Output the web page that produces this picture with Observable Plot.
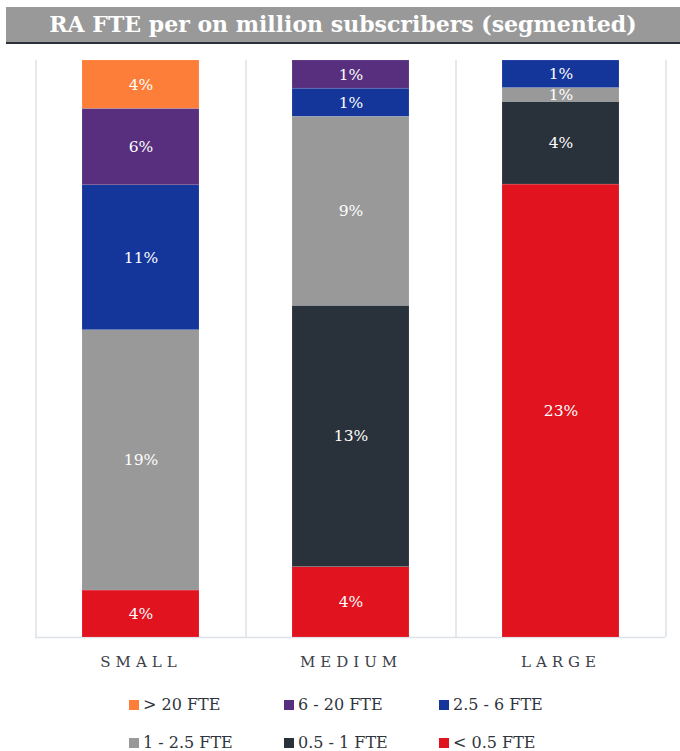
<!DOCTYPE html>
<html>
<head>
<meta charset="utf-8">
<script src="https://cdn.jsdelivr.net/npm/d3@7"></script>
<script src="https://cdn.jsdelivr.net/npm/@observablehq/plot@0.6"></script>
<style>
  html, body { margin: 0; padding: 0; background: #fff; }
  #wrap { position: relative; width: 680px; height: 751px; overflow: hidden; font-family: "DejaVu Serif", serif; }
  #title { position: absolute; top: 7px; left: 6px; right: 0; height: 35px; line-height: 35px;
           background: #999999; border-bottom: 2px solid #2a3139; color: #fff; font-weight: bold;
           font-size: 22px; text-align: center; white-space: nowrap; }
  #chart { position: absolute; top: 44px; left: 0; }
  #chart g[aria-label="x-axis tick label"] text { letter-spacing: 5px; }
  #legend { position: absolute; left: 129px; top: 694px; display: grid;
            grid-template-columns: 155px 155px 155px; row-gap: 17px; }
  .item { display: flex; align-items: center; font-size: 16px; color: #2f353d; height: 21px; white-space: nowrap; }
  .sw { width: 10px; height: 10px; margin-right: 4px; flex: none; }
</style>
</head>
<body>
<div id="wrap">
  <div id="title">RA FTE per on million subscribers (segmented)</div>
  <div id="chart"></div>
  <div id="legend"></div>
</div>
<script>
// Categories (bars)
const categories = ["SMALL", "MEDIUM", "LARGE"];
// Segments, stacked bottom to top
const segments = ["< 0.5 FTE", "0.5 - 1 FTE", "1 - 2.5 FTE", "2.5 - 6 FTE", "6 - 20 FTE", "> 20 FTE"];
const colors = ["#e0131f", "#29313a", "#999999", "#14359a", "#572f7e", "#fd7e38"];
// Values (%) per segment, same order as segments
const smallValues = [3.5, 0, 19.4, 10.8, 5.7, 3.6];
const mediumValues = [3.5, 13.0, 9.4, 1.4, 1.4, 0];
const largeValues = [23.0, 4.2, 0.7, 1.4, 0, 0];
// Legend order
const legendOrder = ["> 20 FTE", "6 - 20 FTE", "2.5 - 6 FTE", "1 - 2.5 FTE", "0.5 - 1 FTE", "< 0.5 FTE"];

const valuesByCategory = [smallValues, mediumValues, largeValues];
const rows = [];
categories.forEach((c, ci) => {
  segments.forEach((s, si) => {
    const v = valuesByCategory[ci][si];
    if (v > 0) rows.push({size: c, segment: s, value: v});
  });
});

const W = 680, H = 640, mL = 35, mR = 15, mT = 16, mB = 47;
const step = (W - mL - mR) / categories.length;
const grid = "#dde2e8";

const chart = Plot.plot({
  width: W, height: H,
  marginTop: mT, marginBottom: mB, marginLeft: mL, marginRight: mR,
  style: {fontFamily: "DejaVu Serif", fontSize: "15px", color: "#3b4049", background: "transparent"},
  x: {domain: categories, paddingInner: 0.443, paddingOuter: 0.2215, label: null, tickSize: 0, tickPadding: 19},
  y: {domain: [0, 1], axis: null},
  color: {domain: segments, range: colors},
  marks: [
    Plot.ruleX(categories, {x: d => d, dx: -step / 2, stroke: grid, strokeWidth: 1.5}),
    Plot.ruleX([categories[categories.length - 1]], {x: d => d, dx: step / 2, stroke: grid, strokeWidth: 1.5}),
    Plot.ruleY([0], {stroke: grid, strokeWidth: 1.5}),
    Plot.barY(rows, Plot.stackY({x: "size", y: "value", z: "segment", fill: "segment",
      order: segments, offset: "normalize", stroke: "#ffffff", strokeOpacity: 0.25, strokeWidth: 0.5})),
    Plot.text(rows, Plot.stackY({x: "size", y: "value", z: "segment", order: segments, offset: "normalize",
      text: d => Math.round(d.value) + "%", fill: "white", fontSize: 15.5}))
  ]
});
document.getElementById("chart").appendChild(chart);

const legend = document.getElementById("legend");
legendOrder.forEach(s => {
  const item = document.createElement("div");
  item.className = "item";
  const sw = document.createElement("span");
  sw.className = "sw";
  sw.style.background = colors[segments.indexOf(s)];
  const t = document.createElement("span");
  t.textContent = s;
  item.appendChild(sw);
  item.appendChild(t);
  legend.appendChild(item);
});
</script>
</body>
</html>
